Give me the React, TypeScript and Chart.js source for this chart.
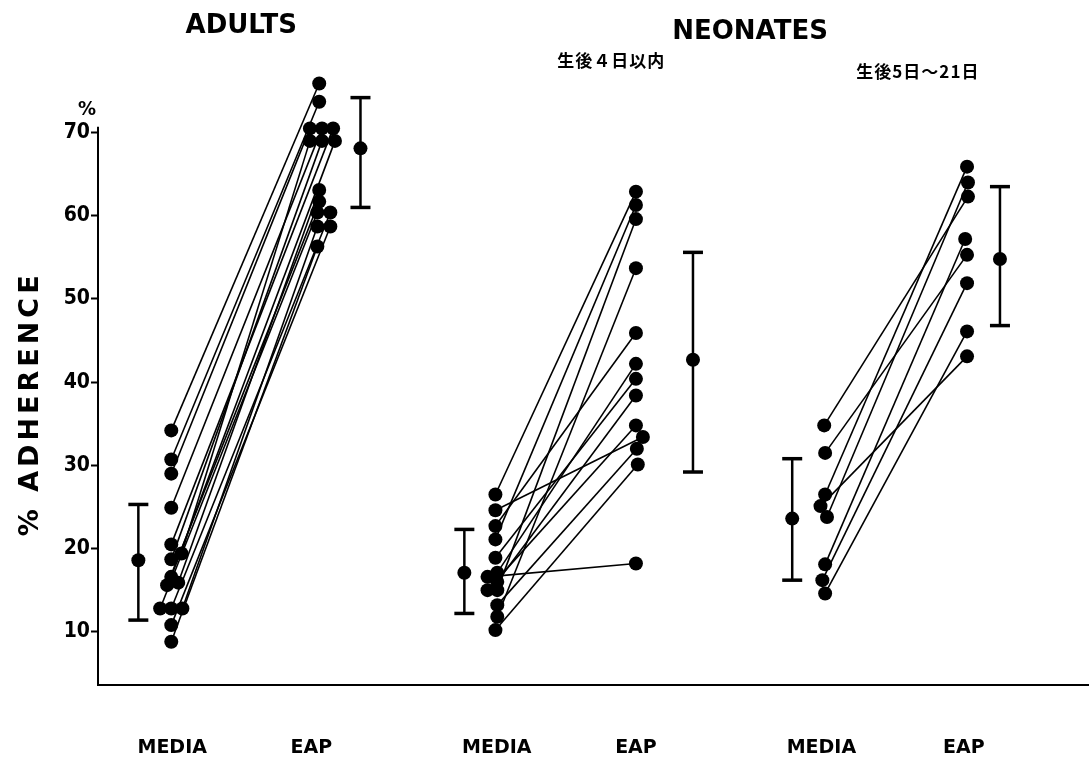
import React, { useEffect, useRef } from "react";
import { Chart, registerables } from "chart.js";

Chart.register(...registerables);

// ---------- text ----------
const groupTitles = ["ADULTS", "NEONATES"];
const subTitles = ["生後４日以内", "生後5日～21日"];
const columnLabels = ["MEDIA", "EAP", "MEDIA", "EAP", "MEDIA", "EAP"];
const yTicks = [10, 20, 30, 40, 50, 60, 70];
const yAxisTitle = "% ADHERENCE";
const yUnit = "%";

// ---------- data (% adherence, paired MEDIA -> EAP per subject) ----------
const adultsMedia = [34.2, 30.7, 29.0, 24.9, 20.5, 19.4, 18.7, 16.6, 15.9, 15.6, 12.8, 12.8, 12.8, 10.8, 8.8];
const adultsEap = [75.9, 73.7, 70.5, 70.5, 70.5, 69.0, 69.0, 69.0, 63.1, 61.7, 60.4, 60.4, 58.7, 58.7, 56.3];

const neo1Media = [26.5, 24.6, 22.7, 21.1, 18.9, 17.1, 16.6, 16.0, 15.0, 15.0, 13.2, 11.8, 10.2];
const neo1Eap = [62.9, 33.4, 45.9, 61.3, 40.4, 42.2, 18.2, 38.4, 34.8, 59.6, 32.0, 53.7, 30.1];

const neo2Media = [34.8, 31.5, 26.5, 25.1, 23.8, 18.1, 16.2, 14.6];
const neo2Eap = [62.3, 55.3, 65.9, 43.1, 64.0, 57.2, 51.9, 46.1];

// summary bars: [low, mean, high]
const adultsMediaStats = [11.4, 18.6, 25.3];
const adultsEapStats = [61.0, 68.1, 74.2];
const neo1MediaStats = [12.2, 17.1, 22.3];
const neo1EapStats = [29.2, 42.7, 55.6];
const neo2MediaStats = [16.2, 23.6, 30.8];
const neo2EapStats = [46.8, 54.8, 63.5];

// ---------- layout (x positions in axis units, jitter of overlapping dots) ----------
const LAYOUT = {
  xMin: 0.4,
  xMax: 21.77,
  yMin: 3.6,
  yMax: 78,
  yAxisTop: 70.7,
  mediaX: [1.98, 8.97, 16.08],
  eapX: [5.17, 12.0, 19.14],
  mediaBarX: [1.27, 8.3, 15.37],
  eapBarX: [6.06, 13.23, 19.85],
  labelX: [2.0, 5.0, 9.0, 12.0, 16.0, 19.07],
  titleX: [3.49, 14.46],
  titleY: [26, 32],
  subX: [11.47, 18.08],
  subY: [61, 72],
  jitter: {
    adultsMedia: [0, 0, 0, 0, 0, 0.22, 0, 0, 0.15, -0.09, -0.24, 0, 0.24, 0, 0],
    adultsEap: [0, 0, -0.2, 0.06, 0.3, -0.2, 0.06, 0.34, 0, 0, -0.04, 0.24, -0.04, 0.24, -0.04],
    neo1Media: [0, 0, 0, 0, 0, 0.04, -0.17, 0.04, -0.17, 0.04, 0.04, 0.04, 0],
    neo1Eap: [0, 0.15, 0, 0, 0, 0, 0, 0, 0, 0, 0.02, 0, 0.04],
    neo2Media: [-0.02, 0, 0, -0.1, 0.04, 0, -0.06, 0],
    neo2Eap: [0.02, 0, 0, 0, 0.02, -0.04, 0, 0],
  },
};

const groups = [
  { media: adultsMedia, eap: adultsEap, mj: LAYOUT.jitter.adultsMedia, ej: LAYOUT.jitter.adultsEap, ms: adultsMediaStats, es: adultsEapStats },
  { media: neo1Media, eap: neo1Eap, mj: LAYOUT.jitter.neo1Media, ej: LAYOUT.jitter.neo1Eap, ms: neo1MediaStats, es: neo1EapStats },
  { media: neo2Media, eap: neo2Eap, mj: LAYOUT.jitter.neo2Media, ej: LAYOUT.jitter.neo2Eap, ms: neo2MediaStats, es: neo2EapStats },
];

function buildDatasets() {
  const ds: any[] = [];
  groups.forEach((g, gi) => {
    g.media.forEach((m, i) => {
      ds.push({
        data: [
          { x: LAYOUT.mediaX[gi] + g.mj[i], y: m },
          { x: LAYOUT.eapX[gi] + g.ej[i], y: g.eap[i] },
        ],
        showLine: true,
        borderColor: "#000",
        borderWidth: 1.6,
        backgroundColor: "#000",
        pointRadius: 7,
        pointBorderWidth: 0,
        clip: false,
      });
    });
    [
      { x: LAYOUT.mediaBarX[gi], s: g.ms },
      { x: LAYOUT.eapBarX[gi], s: g.es },
    ].forEach((b) => {
      ds.push({
        data: [
          { x: b.x, y: b.s[0] },
          { x: b.x, y: b.s[2] },
        ],
        showLine: true,
        borderColor: "#000",
        borderWidth: 2.5,
        pointStyle: "line",
        pointRadius: 10,
        pointBorderWidth: 3.5,
        pointBorderColor: "#000",
        clip: false,
      });
      ds.push({
        data: [{ x: b.x, y: b.s[1] }],
        backgroundColor: "#000",
        borderColor: "#000",
        pointRadius: 7,
        pointBorderWidth: 0,
        clip: false,
      });
    });
  });
  return ds;
}

const textPlugin = {
  id: "figureTexts",
  beforeDatasetsDraw(chart: any) {
    const { ctx, chartArea } = chart;
    const y = chart.scales.y;
    ctx.save();
    ctx.strokeStyle = "#000";
    ctx.lineWidth = 2;
    ctx.beginPath();
    ctx.moveTo(chartArea.left, y.getPixelForValue(LAYOUT.yMin) + 1);
    ctx.lineTo(chartArea.left, y.getPixelForValue(LAYOUT.yAxisTop));
    ctx.stroke();
    ctx.restore();
  },
  afterDraw(chart: any) {
    const { ctx } = chart;
    const x = chart.scales.x;
    ctx.save();
    ctx.fillStyle = "#000";
    ctx.textAlign = "center";
    ctx.textBaseline = "middle";
    ctx.font = "bold 26px 'DejaVu Sans', sans-serif";
    groupTitles.forEach((t, i) => ctx.fillText(t, x.getPixelForValue(LAYOUT.titleX[i]), LAYOUT.titleY[i]));
    ctx.font = "bold 17px 'Noto Sans CJK JP', sans-serif";
    (ctx as any).letterSpacing = "1px";
    subTitles.forEach((t, i) => ctx.fillText(t, x.getPixelForValue(LAYOUT.subX[i]), LAYOUT.subY[i]));
    (ctx as any).letterSpacing = "0px";
    ctx.font = "bold 20px 'Liberation Sans Narrow', 'DejaVu Sans Condensed', sans-serif";
    ctx.fillText(yUnit, 87, 110);
    const y = chart.scales.y;
    const midY = (y.getPixelForValue(LAYOUT.yMin) + y.getPixelForValue(LAYOUT.yAxisTop)) / 2;
    ctx.translate(31, midY);
    ctx.rotate(-Math.PI / 2);
    ctx.font = "bold 27px 'DejaVu Sans', sans-serif";
    (ctx as any).letterSpacing = "4px";
    ctx.fillText(yAxisTitle, 2, 0);
    ctx.restore();
  },
};

export default function App() {
  const ref = useRef<HTMLCanvasElement | null>(null);
  useEffect(() => {
    document.body.style.margin = "0";
    const canvas = ref.current!;
    const chart = new Chart(canvas, {
      type: "scatter",
      data: { datasets: buildDatasets() },
      options: {
        responsive: false,
        animation: false,
        layout: { autoPadding: false, padding: { top: 66, left: 0, right: 0, bottom: 0 } },
        plugins: { legend: { display: false }, tooltip: { enabled: false }, title: { display: false } },
        scales: {
          x: {
            type: "linear",
            min: LAYOUT.xMin,
            max: LAYOUT.xMax,
            afterBuildTicks: (axis: any) => {
              axis.ticks = LAYOUT.labelX.map((v) => ({ value: v }));
            },
            afterFit: (scale: any) => {
              scale.height = 72;
            },
            ticks: {
              autoSkip: false,
              maxRotation: 0,
              padding: 0,
              color: "#000",
              font: { family: "'DejaVu Sans', sans-serif", size: 19, weight: "bold" },
              callback: (_v: any, i: number) => columnLabels[i],
            },
            grid: { display: true, drawOnChartArea: false, drawTicks: true, tickLength: 52, tickColor: "rgba(0,0,0,0)" },
            border: { display: true, color: "#000", width: 2 },
          },
          y: {
            type: "linear",
            min: LAYOUT.yMin,
            max: LAYOUT.yMax,
            afterBuildTicks: (axis: any) => {
              axis.ticks = yTicks.map((v) => ({ value: v }));
            },
            afterFit: (scale: any) => {
              scale.width = 98;
            },
            ticks: {
              padding: 1,
              color: "#000",
              font: { family: "'Liberation Sans Narrow', 'DejaVu Sans Condensed', sans-serif", size: 21, weight: "bold" },
            },
            grid: { drawOnChartArea: false, drawTicks: true, tickLength: 7, tickWidth: 2, tickColor: "#000" },
            border: { display: false },
          },
        },
      },
      plugins: [textPlugin],
    });
    return () => chart.destroy();
  }, []);
  return (
    <div style={{ position: "absolute", left: 0, top: 0, width: 1089, height: 757, background: "#fff" }}>
      <canvas ref={ref} width={1089} height={757} style={{ display: "block" }} />
    </div>
  );
}
